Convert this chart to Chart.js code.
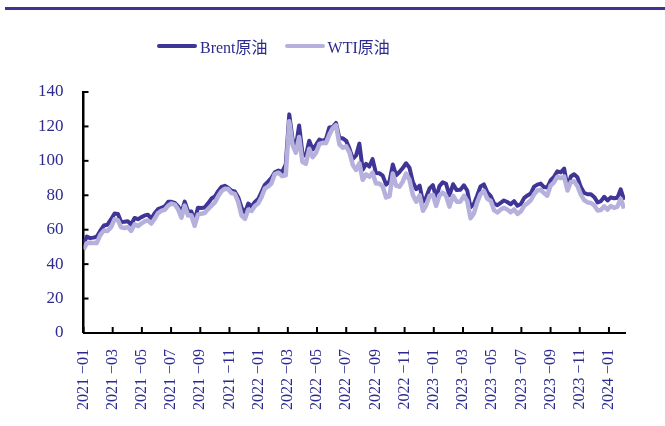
<!DOCTYPE html>
<html>
<head>
<meta charset="utf-8">
<script src="https://cdn.jsdelivr.net/npm/chart.js@4.4.1/dist/chart.umd.min.js"></script>
<style>
  body { margin: 0; background: #fff; }
  #wrap { position: relative; width: 665px; height: 426px; }
  #rule { position: absolute; left: 5px; top: 7px; width: 660px; height: 3px; background: #3e3592; }
  #legend { position: absolute; top: 34px; left: 157px; display: flex; align-items: center;
            font-family: "Liberation Serif", "Noto Sans CJK SC", serif; font-size: 16px; color: #2c2a8e; }
  #legend .item { display: flex; align-items: center; margin-right: 17px; }
  #legend .swatch { width: 40px; height: 4px; border-radius: 2px; margin-right: 3px; }
  canvas { position: absolute; left: 0; top: 0; }
</style>
</head>
<body>
<div id="wrap">
  <canvas id="oilChart" width="665" height="426"></canvas>
  <div id="rule"></div>
  <div id="legend"></div>
</div>
<script>
// weekly (Friday) readings, starting 2021-01-01
const startDate = '2021-01-01';
const seriesNames = ['Brent原油', 'WTI原油'];
const seriesColors = ['#3f3596', '#b6b1dc'];
// x tick positions: months since 2021-01, every two months up to 2024-01
const xTickMonths = [0, 2, 4, 6, 8, 10, 12, 14, 16, 18, 20, 22, 24, 26, 28, 30, 32, 34, 36];
const yTicks = [0, 20, 40, 60, 80, 100, 120, 140];

const brent2021 = [51.8, 56.0, 55.1, 55.4, 55.9, 59.3, 62.4, 62.9, 66.1, 69.4, 69.2, 64.5, 64.6,
  64.9, 63.0, 66.8, 66.1, 67.3, 68.3, 68.7, 66.4, 69.6, 71.9, 72.7, 73.5, 76.2,
  76.2, 75.6, 73.6, 70.0, 76.3, 70.7, 70.6, 65.2, 72.7, 72.6, 72.9, 75.3, 78.1,
  79.3, 82.4, 84.9, 85.5, 84.4, 82.7, 82.2, 78.9, 72.7, 69.9, 75.2, 73.5, 76.1, 77.8];
const brent2022 = [81.8, 86.0, 87.9, 90.0, 93.3, 94.4, 93.5, 97.9, 127.0, 112.7, 108.0, 120.6,
  104.4, 102.8, 111.7, 106.6, 109.3, 112.4, 111.6, 112.6, 119.4, 119.7, 122.0, 113.1, 113.1,
  111.6, 107.0, 101.2, 103.2, 110.0, 94.9, 98.2, 96.7, 101.0, 93.0, 92.8, 91.4, 86.2, 88.0,
  97.9, 91.6, 93.5, 95.8, 98.6, 96.0, 87.6, 83.6, 85.6, 76.1, 79.0, 84.0, 85.9];
const brent2023 = [78.6, 85.3, 87.6, 86.7, 79.9, 86.4, 83.0, 83.2, 85.8, 82.8, 73.0, 75.0, 79.8,
  85.1, 86.3, 81.7, 79.5, 75.3, 74.2, 75.6, 77.0, 76.1, 74.8, 76.6, 73.9, 74.9,
  78.5, 79.9, 81.1, 85.0, 86.2, 86.8, 84.8, 84.5, 88.6, 90.7, 93.9, 93.3, 95.5,
  84.6, 90.9, 92.2, 90.5, 84.9, 81.4, 80.6, 80.6, 78.9, 75.8, 76.6, 79.1, 77.0];
const brent2024 = [78.8, 78.3, 78.6, 83.5, 77.3];

const wti2021 = [48.5, 52.2, 52.4, 52.3, 52.2, 56.9, 59.5, 59.2, 61.5, 66.1, 65.6, 61.4, 61.0,
  61.5, 59.3, 63.1, 62.1, 63.6, 64.9, 65.4, 63.6, 66.3, 69.6, 70.9, 71.6, 74.0,
  75.2, 74.6, 71.8, 67.0, 74.0, 68.3, 68.4, 62.3, 68.7, 69.3, 69.7, 72.0, 74.0,
  75.9, 79.4, 82.3, 83.8, 83.6, 81.3, 80.8, 76.1, 68.2, 66.3, 71.7, 70.9, 73.8, 75.2];
const wti2022 = [78.9, 83.8, 85.1, 86.8, 92.3, 93.1, 91.1, 91.6, 123.0, 109.3, 104.7, 113.9,
  99.3, 98.3, 107.0, 102.1, 104.7, 109.8, 110.5, 110.3, 115.1, 118.9, 120.7, 109.6, 107.6,
  108.4, 104.8, 97.6, 94.7, 98.6, 89.0, 92.1, 90.8, 93.1, 86.9, 86.8, 85.1, 78.7, 79.5,
  92.6, 85.6, 85.0, 87.9, 92.6, 89.0, 80.1, 76.3, 80.0, 71.0, 74.3, 79.6, 80.3];
const wti2023 = [73.8, 79.9, 81.6, 79.7, 73.4, 79.7, 76.3, 76.3, 79.7, 76.7, 66.7, 69.3, 75.7,
  80.7, 82.5, 77.9, 76.8, 71.3, 70.0, 71.7, 72.7, 71.7, 70.2, 71.8, 69.2, 70.6,
  73.9, 75.4, 77.1, 80.6, 82.8, 83.2, 81.3, 79.8, 85.6, 87.5, 90.8, 90.0, 90.8,
  82.8, 87.7, 88.1, 85.5, 80.5, 77.2, 75.9, 75.5, 74.1, 71.2, 71.4, 73.6, 71.7];
const wti2024 = [73.8, 72.7, 73.4, 78.0, 72.3];

const brentValues = [...brent2021, ...brent2022, ...brent2023, ...brent2024];
const wtiValues = [...wti2021, ...wti2022, ...wti2023, ...wti2024];

const textColor = '#2c2a8e';
const serif = '"Liberation Serif", "Times New Roman", serif';

// month position (months since 2021-01) for each weekly reading
function monthPos(i) {
  const d = new Date(Date.parse(startDate) + i * 7 * 86400000);
  const y = d.getUTCFullYear(), m = d.getUTCMonth();
  const dim = new Date(Date.UTC(y, m + 1, 0)).getUTCDate();
  return (y - 2021) * 12 + m + (d.getUTCDate() - 1) / dim;
}
const toPoints = arr => arr.map((v, i) => ({ x: monthPos(i), y: v }));

const innerTicks = {
  id: 'innerTicks',
  afterDraw(chart) {
    const { ctx, scales: { x, y } } = chart;
    ctx.save();
    ctx.strokeStyle = '#000';
    ctx.lineWidth = 2;
    x.ticks.forEach(t => {
      const px = x.getPixelForValue(t.value);
      ctx.beginPath(); ctx.moveTo(px, y.bottom); ctx.lineTo(px, y.bottom - 6); ctx.stroke();
    });
    y.ticks.forEach(t => {
      const py = y.getPixelForValue(t.value);
      ctx.beginPath(); ctx.moveTo(x.left, py); ctx.lineTo(x.left + 5, py); ctx.stroke();
    });
    ctx.restore();
  }
};

// html legend
const legendEl = document.getElementById('legend');
seriesNames.forEach((name, i) => {
  const item = document.createElement('div');
  item.className = 'item';
  item.innerHTML = '<div class="swatch" style="background:' + seriesColors[i] + '"></div><span>' + name + '</span>';
  legendEl.appendChild(item);
});

new Chart(document.getElementById('oilChart').getContext('2d'), {
  type: 'line',
  data: {
    datasets: [
      { label: seriesNames[0], data: toPoints(brentValues), borderColor: seriesColors[0], borderWidth: 4, order: 1 },
      { label: seriesNames[1], data: toPoints(wtiValues), borderColor: seriesColors[1], borderWidth: 4.5, order: 0 }
    ]
  },
  options: {
    responsive: false,
    animation: false,
    layout: { padding: { left: 26, right: 40, top: 92, bottom: 8 } },
    plugins: { legend: { display: false }, tooltip: { enabled: false } },
    elements: { point: { radius: 0 }, line: { tension: 0, borderJoinStyle: 'round' } },
    scales: {
      x: {
        type: 'linear', min: 0, max: 37.1,
        afterBuildTicks: s => { s.ticks = xTickMonths.map(v => ({ value: v })); },
        ticks: {
          autoSkip: false, minRotation: 90, maxRotation: 90, padding: 8,
          color: textColor, font: { family: serif, size: 16 },
          callback: v => (2021 + Math.floor(v / 12)) + ' \u2212' + String(v % 12 + 1).padStart(2, '0')
        },
        grid: { display: false },
        border: { color: '#000', width: 2 }
      },
      y: {
        min: 0, max: 140,
        afterBuildTicks: s => { s.ticks = yTicks.map(v => ({ value: v })); },
        ticks: { padding: 12, color: textColor, font: { family: serif, size: 17 } },
        grid: { display: false },
        border: { color: '#000', width: 2.5 }
      }
    }
  },
  plugins: [innerTicks]
});
</script>
</body>
</html>
